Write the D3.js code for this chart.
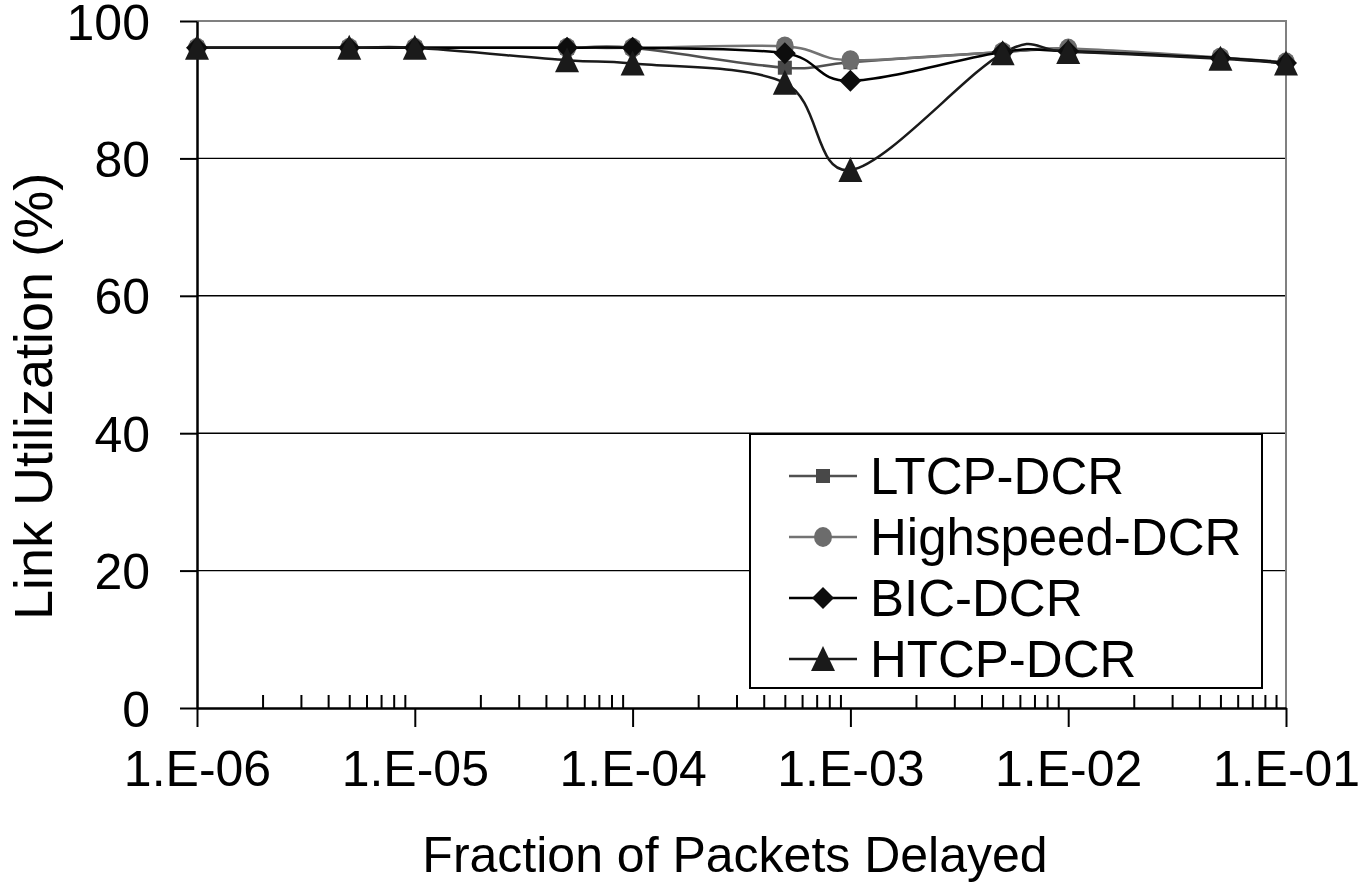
<!DOCTYPE html>
<html>
<head>
<meta charset="utf-8">
<script src="https://cdn.jsdelivr.net/npm/d3@7"></script>
<style>
  body { margin: 0; background: #fff; }
  svg text { font-family: "Liberation Sans", Arial, sans-serif; fill: #000; }
</style>
</head>
<body>
<svg id="chart" width="1364" height="895"></svg>
<script>
// fraction of packets delayed (x) and link utilization % per protocol
var delays = [1e-6, 5e-6, 1e-5, 5e-5, 1e-4, 5e-4, 1e-3, 5e-3, 1e-2, 5e-2, 1e-1];
var ltcp      = [96.1, 96.1, 96.1, 96.1, 96.1, 93.2, 94.0, 95.5, 95.8, 94.6, 93.9];
var highspeed = [96.1, 96.1, 96.1, 96.1, 96.1, 96.3, 94.3, 95.5, 96.0, 94.7, 94.0];
var bic       = [96.1, 96.1, 96.1, 96.1, 96.1, 95.3, 91.3, 95.5, 95.6, 94.6, 93.9];
var htcp      = [96.1, 96.1, 96.1, 94.3, 93.8, 91.0, 78.3, 95.3, 95.5, 94.5, 93.8];

var seriesNames = ["LTCP-DCR", "Highspeed-DCR", "BIC-DCR", "HTCP-DCR"];
var yTicks = [0, 20, 40, 60, 80, 100];
var decades = [1e-6, 1e-5, 1e-4, 1e-3, 1e-2, 1e-1];

var series = [
  { name: seriesNames[0], values: ltcp,      line: "#505050", fill: "#484848", shape: "square" },
  { name: seriesNames[1], values: highspeed, line: "#737373", fill: "#6c6c6c", shape: "circle" },
  { name: seriesNames[2], values: bic,       line: "#000000", fill: "#0d0d0d", shape: "diamond" },
  { name: seriesNames[3], values: htcp,      line: "#1a1a1a", fill: "#1a1a1a", shape: "triangle" }
];

var svg = d3.select("#chart");

var plotLeft = 197, plotRight = 1286, plotTop = 21, plotBottom = 708;
var x = d3.scaleLog().domain([1e-6, 1e-1]).range([plotLeft, plotRight]);
var y = d3.scaleLinear().domain([0, 100]).range([plotBottom, plotTop]);

// gridlines
svg.append("g").selectAll("line")
  .data(yTicks.filter(function (d) { return d > 0 && d < 100; }))
  .enter().append("line")
  .attr("x1", plotLeft).attr("x2", plotRight)
  .attr("y1", function (d) { return y(d); }).attr("y2", function (d) { return y(d); })
  .attr("stroke", "#000").attr("stroke-width", 1.4);

// grey plot border, top and right
svg.append("path")
  .attr("d", "M" + plotLeft + "," + y(100) + "H" + plotRight + "V" + plotBottom)
  .attr("fill", "none").attr("stroke", "#808080").attr("stroke-width", 2);

// minor x ticks (2..9 per decade), pointing up
var minor = [];
decades.slice(0, -1).forEach(function (d) {
  for (var k = 2; k <= 9; k++) minor.push(d * k);
});
var minorAxis = svg.append("g")
  .attr("transform", "translate(0," + plotBottom + ")")
  .call(d3.axisTop(x).tickValues(minor).tickSize(13).tickFormat(""));
minorAxis.select(".domain").remove();
minorAxis.selectAll("line").attr("stroke-width", 2);

// major x axis
var xAxis = svg.append("g")
  .attr("transform", "translate(0," + plotBottom + ")")
  .call(d3.axisBottom(x).tickValues(decades).tickSizeInner(19).tickSizeOuter(0).tickPadding(23)
    .tickFormat(function (d) {
      var e = Math.round(Math.log10(d));
      return "1.E-" + (e > -10 ? "0" : "") + (-e);
    }));
xAxis.select(".domain").attr("stroke-width", 2.5);
xAxis.selectAll("line").attr("stroke-width", 2);
xAxis.selectAll("text").style("font-size", "50px");

// y axis
var yAxis = svg.append("g")
  .attr("transform", "translate(" + plotLeft + ",0)")
  .call(d3.axisLeft(y).tickValues(yTicks).tickSizeInner(17).tickSizeOuter(0).tickPadding(30));
yAxis.select(".domain").attr("stroke-width", 2.5);
yAxis.selectAll("line").attr("stroke-width", 2);
yAxis.selectAll("text").style("font-size", "50px").attr("dy", "0.36em");

// axis titles
svg.append("text")
  .attr("x", 735).attr("y", 872)
  .attr("text-anchor", "middle")
  .style("font-size", "50px")
  .text("Fraction of Packets Delayed");

svg.append("clipPath").attr("id", "ytitleclip")
  .append("rect").attr("x", 0).attr("y", 169).attr("width", 120).attr("height", 600);
svg.append("g").attr("clip-path", "url(#ytitleclip)")
  .append("text")
  .attr("transform", "translate(52,620) rotate(-90)")
  .attr("text-anchor", "start")
  .style("font-size", "54px")
  .text("Link Utilization (%)");

// marker drawing
function drawMarker(sel, s) {
  if (s.shape === "square") {
    sel.append("rect").attr("x", -7).attr("y", -7).attr("width", 14).attr("height", 14).attr("fill", s.fill);
  } else if (s.shape === "circle") {
    sel.append("ellipse").attr("rx", 9).attr("ry", 10).attr("fill", s.fill);
  } else if (s.shape === "diamond") {
    sel.append("path").attr("d", "M0,-11L11,0L0,11L-11,0Z").attr("fill", s.fill);
  } else {
    sel.append("path").attr("d", "M0,-13L12,12L-12,12Z").attr("fill", s.fill);
  }
}

var line = d3.line()
  .x(function (d) { return x(d[0]); })
  .y(function (d) { return y(d[1]); })
  .curve(d3.curveCatmullRom.alpha(0));

series.forEach(function (s) {
  var pts = delays.map(function (d, i) { return [d, s.values[i]]; });
  svg.append("path")
    .datum(pts)
    .attr("d", line)
    .attr("fill", "none")
    .attr("stroke", s.line)
    .attr("stroke-width", 2.5);
});

series.forEach(function (s) {
  var pts = delays.map(function (d, i) { return [d, s.values[i]]; });
  svg.append("g").selectAll("g")
    .data(pts)
    .enter().append("g")
    .attr("transform", function (d) { return "translate(" + x(d[0]) + "," + y(d[1]) + ")"; })
    .each(function () { drawMarker(d3.select(this), s); });
});

// legend
var legend = svg.append("g");
legend.append("rect")
  .attr("x", 750).attr("y", 434).attr("width", 512).attr("height", 254)
  .attr("fill", "#fff").attr("stroke", "#000").attr("stroke-width", 2);

var rows = legend.selectAll("g.row")
  .data(series)
  .enter().append("g")
  .attr("class", "row")
  .attr("transform", function (d, i) { return "translate(0," + (476 + i * 61) + ")"; });

rows.append("line")
  .attr("x1", 789).attr("x2", 857)
  .attr("stroke", function (d) { return d.line; })
  .attr("stroke-width", 2.5);
rows.each(function (d) {
  var g = d3.select(this).append("g").attr("transform", "translate(823,0)");
  drawMarker(g, d);
});
rows.append("text")
  .attr("x", 870).attr("y", 18)
  .style("font-size", "51px")
  .text(function (d) { return d.name; });
</script>
</body>
</html>
